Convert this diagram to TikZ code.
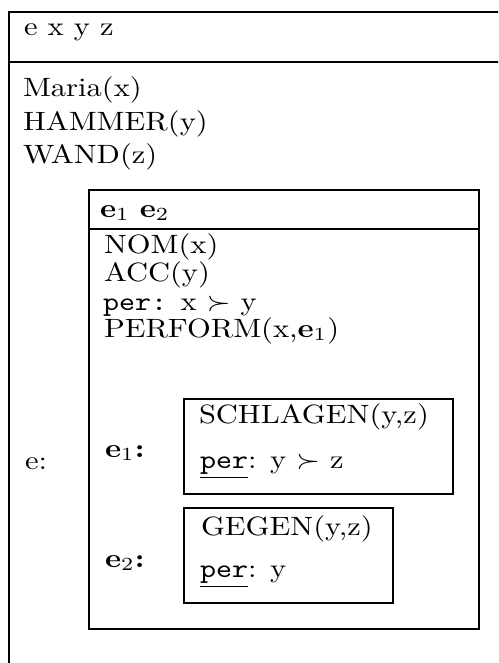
\documentclass[tikz,border=0pt]{standalone}
\usepackage{graphicx}
% 10pt Computer Modern lettering, enlarged and slightly widened
\newcommand\widen[1]{\scalebox{3.05}[2.65]{#1}}
\newcommand\upr{\underline{\texttt{per}}}
\begin{document}
\begin{tikzpicture}[x=1pt,y=-1pt,
  frame/.style={draw=black,line width=2.6pt},
  lbl/.style={anchor=base west,inner sep=0pt,outer sep=0pt,
    font=\normalsize}]
\useasboundingbox (0,0) rectangle (498,663);
\clip (0,0) rectangle (498,663);
\fill[white] (0,0) rectangle (498,663);

% outer box (runs off the right and bottom edge)
\draw[frame] (9,700) -- (9,12) -- (520,12);
\draw[frame] (9,62) -- (520,62);

% inner box
\draw[frame] (89,190) rectangle (479,629);
\draw[frame] (89,229) -- (479,229);

% event sub-boxes
\draw[frame] (184,399) rectangle (453,494);
\draw[frame] (184,508) rectangle (393,603);

% outer universe and conditions
\node[lbl] (univ) at (24,36) {\widen{e x y z}};
\node[lbl] (maria) at (23,97) {\widen{Maria(x)}};
\node[lbl] (hammer) at (23,131) {\widen{HAMMER(y)}};
\node[lbl] (wand) at (23,164) {\widen{WAND(z)}};
\node[lbl] (elab) at (25,469) {\widen{e:}};

% inner box contents
\node[lbl] (evs) at (100,217) {\widen{$\mathbf{e}_1$ $\mathbf{e}_2$}};
\node[lbl] (nom) at (104,253) {\widen{NOM(x)}};
\node[lbl] (acc) at (104,281) {\widen{ACC(y)}};
\node[lbl] (per) at (103,310) {\widen{\texttt{per:} x $\succ$ y}};
\node[lbl] (perform) at (104,337) {\widen{PERFORM(x,$\mathbf{e}_1$)}};

\node[lbl] (eone) at (105,457) {\widen{\textbf{e}$_1$\textbf{:}}};
\node[lbl] (etwo) at (105,567) {\widen{\textbf{e}$_2$\textbf{:}}};

% e1 box
\node[lbl] (schlagen) at (199,423) {\widen{SCHLAGEN(y,z)}};
\node[lbl] (perone) at (200,468) {\widen{\upr: y $\succ$ z}};

% e2 box
\node[lbl] (gegen) at (201,535) {\widen{GEGEN(y,z)}};
\node[lbl] (pertwo) at (200,577) {\widen{\upr: y}};
\end{tikzpicture}
\end{document}
